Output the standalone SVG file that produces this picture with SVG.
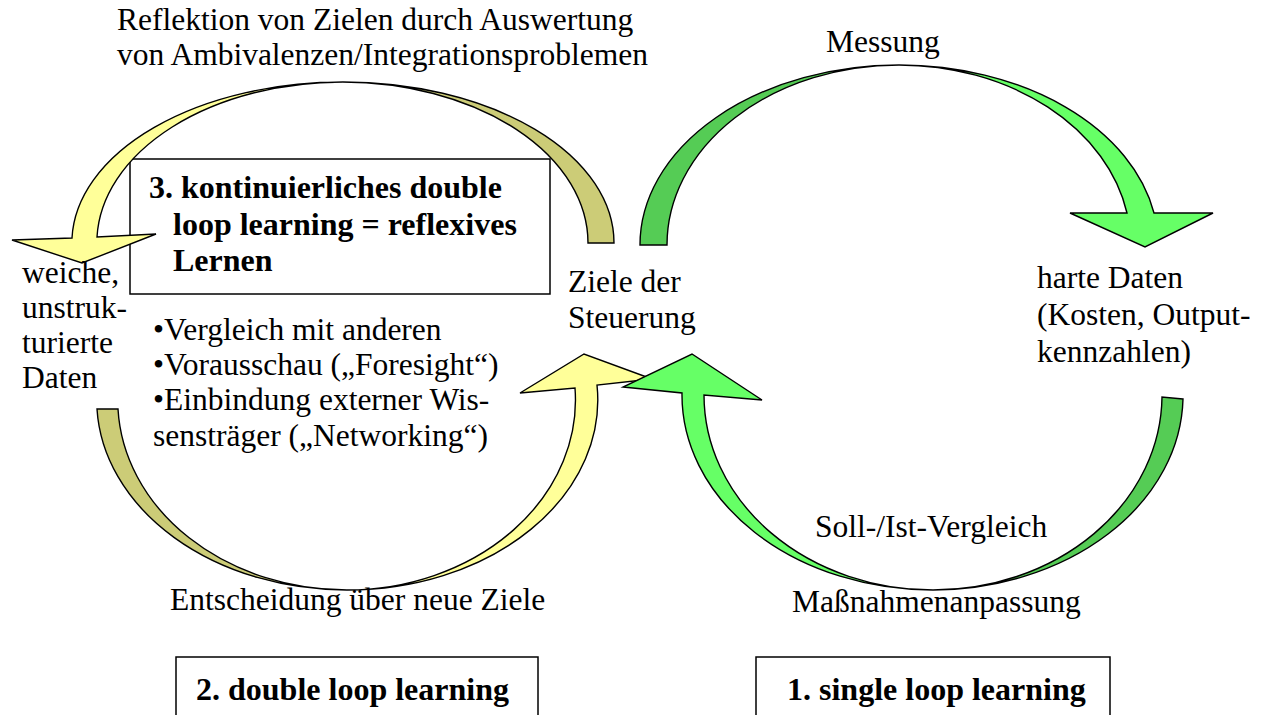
<svg xmlns="http://www.w3.org/2000/svg" width="1267" height="715" viewBox="0 0 1267 715">
<style>
.t{font-family:'Liberation Serif','Times New Roman',serif;font-size:31.5px;font-weight:normal;fill:#000}
.b{font-family:'Liberation Serif','Times New Roman',serif;font-weight:bold;font-size:32px;fill:#000}
.arrow{stroke:#000;stroke-width:1.4;stroke-linejoin:miter}
.box{fill:#fff;stroke:#000;stroke-width:1.5}
.yl{fill:#FFFF99}.kh{fill:#CCCC77}.gl{fill:#66FF66}.gd{fill:#55CC55}
</style>
<rect width="1267" height="715" fill="#fff"/>
<g id="box3">
<rect class="box" x="130" y="159" width="420" height="135"/>
<text class="b" x="149" y="198">3. kontinuierliches double</text>
<text class="b" x="173" y="235">loop learning = reflexives</text>
<text class="b" x="173" y="271">Lernen</text>
</g>
<g id="connectors">
<path class="arrow kh" d="M614,243 A271 161 0 0 0 343,82 A246 161 0 0 1 588,243 Z"/>
<path class="arrow yl" d="M343,82 A271 161 0 0 0 72,238 L12,240 L82,263 L156,234 L97,237 A246 161 0 0 1 343,82 Z"/>
<path class="arrow kh" d="M97,409 A250 190 0 0 0 347,590 A229 190 0 0 1 118,409 Z"/>
<path class="arrow yl" d="M347,590 A250 190 0 0 0 597,385 L652,379 L584,354 L520,393 L575,388 A229 190 0 0 1 347,590 Z"/>
<path class="arrow gd" d="M640,245 A259 180 0 0 1 899,65 A232 180 0 0 0 667,245 Z"/>
<path class="arrow gl" d="M899,65 A259 180 0 0 1 1154,213 L1213,213 L1145,247 L1070,213 L1127,213 A232 180 0 0 0 899,65 Z"/>
<path class="arrow gd" d="M1183,399 L1162,397 A229 195 0 0 1 933,590 A251 195 0 0 0 1183,399 Z"/>
<path class="arrow gl" d="M933,590 A251 195 0 0 1 682,393 L623,387 L692,354 L762,400 L704,395 A229 195 0 0 0 933,590 Z"/>
</g>
<g id="labels">
<text class="t" x="117" y="30">Reflektion von Zielen durch Auswertung</text>
<text class="t" x="117" y="65">von Ambivalenzen/Integrationsproblemen</text>
<text class="t" x="826" y="52">Messung</text>
<text class="t" x="22" y="283">weiche,</text>
<text class="t" x="22" y="318">unstruk-</text>
<text class="t" x="22" y="353">turierte</text>
<text class="t" x="22" y="388">Daten</text>
<text class="t" x="153" y="340">•Vergleich mit anderen</text>
<text class="t" x="153" y="375">•Vorausschau („Foresight“)</text>
<text class="t" x="153" y="410">•Einbindung externer Wis-</text>
<text class="t" x="153" y="446">sensträger („Networking“)</text>
<text class="t" x="568" y="292">Ziele der</text>
<text class="t" x="568" y="328">Steuerung</text>
<text class="t" x="1037" y="288">harte Daten</text>
<text class="t" x="1037" y="325">(Kosten, Output-</text>
<text class="t" x="1037" y="362">kennzahlen)</text>
<text class="t" x="815" y="537">Soll-/Ist-Vergleich</text>
<text class="t" x="792" y="612">Maßnahmenanpassung</text>
<text class="t" x="170" y="610">Entscheidung über neue Ziele</text>
</g>
<g id="box2">
<rect class="box" x="176" y="657" width="362" height="70"/>
<text class="b" x="196" y="700">2. double loop learning</text>
</g>
<g id="box1">
<rect class="box" x="756" y="657" width="354" height="70"/>
<text class="b" x="787" y="700">1. single loop learning</text>
</g>
</svg>
